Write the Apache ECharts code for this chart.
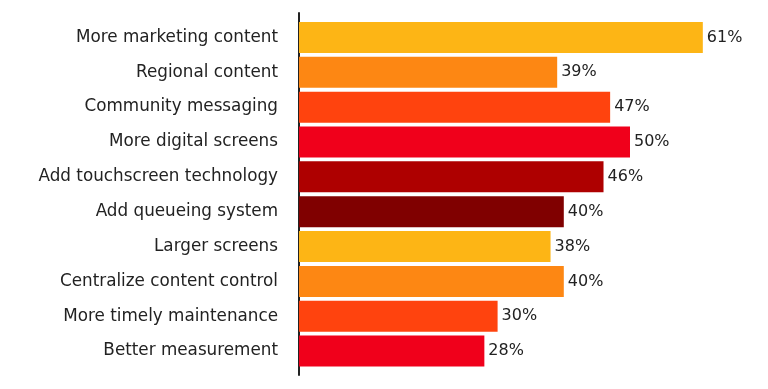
<!DOCTYPE html>
<html>
<head>
<meta charset="utf-8">
<script src="https://cdn.jsdelivr.net/npm/echarts@6/dist/echarts.min.js"></script>
<style>
html,body{margin:0;padding:0;background:#fff;}
#chart{width:768px;height:389px;}
</style>
</head>
<body>
<div id="chart"></div>
<script>
var categories = [
  "More marketing content",
  "Regional content",
  "Community messaging",
  "More digital screens",
  "Add touchscreen technology",
  "Add queueing system",
  "Larger screens",
  "Centralize content control",
  "More timely maintenance",
  "Better measurement"
];
var values = [61, 39, 47, 50, 46, 40, 38, 40, 30, 28];
var barColors = ["#FDB515", "#FD8713", "#FF430E", "#F0001B", "#AE0000", "#800000", "#FDB515", "#FD8713", "#FF430E", "#F0001B"];

var chart = echarts.init(document.getElementById('chart'));
var FONT = '"DejaVu Sans", sans-serif';
chart.setOption({
  animation: false,
  grid: [
    {left: 299, right: 5.6, top: 20, bottom: 20.5},
    {left: 299, right: 5.6, top: 13, bottom: 14}
  ],
  xAxis: [
    {gridIndex: 0, type: 'value', min: 0, max: 70, show: false},
    {gridIndex: 1, type: 'value', min: 0, max: 70, show: false}
  ],
  yAxis: [
    {
      gridIndex: 0, type: 'category', data: categories, inverse: true,
      axisLine: {show: false}, axisTick: {show: false},
      axisLabel: {color: '#222', fontSize: 16.8, fontFamily: FONT, margin: 21}
    },
    {
      gridIndex: 1, type: 'category', data: [''],
      axisLine: {show: true, lineStyle: {color: '#222', width: 2}},
      axisTick: {show: false}, axisLabel: {show: false}
    }
  ],
  series: [{
    type: 'bar',
    xAxisIndex: 0, yAxisIndex: 0,
    barWidth: 31,
    data: values.map(function (v, i) {
      return {value: v, itemStyle: {color: barColors[i]}};
    }),
    label: {
      show: true, position: 'right', distance: 4,
      formatter: '{c}%', color: '#222', fontSize: 16, fontFamily: FONT
    }
  }]
});
</script>
</body>
</html>
